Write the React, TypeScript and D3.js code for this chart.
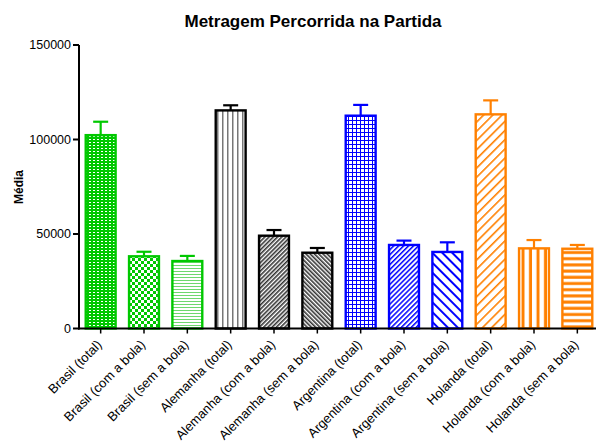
import React from 'react';
import * as d3 from 'd3';

const categories = [
  'Brasil (total)', 'Brasil (com a bola)', 'Brasil (sem a bola)',
  'Alemanha (total)', 'Alemanha (com a bola)', 'Alemanha (sem a bola)',
  'Argentina (total)', 'Argentina (com a bola)', 'Argentina (sem a bola)',
  'Holanda (total)', 'Holanda (com a bola)', 'Holanda (sem a bola)',
];
const means = [102300, 38200, 35700, 115400, 49100, 40100, 112600, 44200, 40500, 113300, 42400, 42200];
const upper = [109400, 40600, 38400, 118100, 52100, 42600, 118300, 46500, 45600, 120700, 46800, 44200];
const barColors = [
  '#00c800', '#00c800', '#00c800',
  '#000000', '#000000', '#000000',
  '#0000ff', '#0000ff', '#0000ff',
  '#ff8000', '#ff8000', '#ff8000',
];
const yTicks = [0, 50000, 100000, 150000];

const W = 596;
const H = 446;
const FONT = 'Liberation Sans, Arial, sans-serif';
const LABEL_ANGLE = -45;

const Patterns = () => (
  <defs>
    {/* Brasil total: fine dotted */}
    <pattern id="p0" width="4" height="3" patternUnits="userSpaceOnUse">
      <rect width="4" height="3" fill="#00c800" />
      <rect x="1" y="1" width="2" height="1" fill="#fff" />
    </pattern>
    {/* Brasil com: checkerboard */}
    <pattern id="p1" width="6" height="6" patternUnits="userSpaceOnUse">
      <rect width="6" height="6" fill="#fff" />
      <rect width="3" height="3" fill="#00c800" />
      <rect x="3" y="3" width="3" height="3" fill="#00c800" />
    </pattern>
    {/* Brasil sem: thin horizontal lines */}
    <pattern id="p2" width="4" height="3" patternUnits="userSpaceOnUse">
      <rect width="4" height="3" fill="#fff" />
      <rect y="1" width="4" height="1" fill="#6ed86e" />
    </pattern>
    {/* Alemanha total: vertical lines */}
    <pattern id="p3" width="5" height="4" patternUnits="userSpaceOnUse">
      <rect width="5" height="4" fill="#fff" />
      <rect x="2" width="1.5" height="4" fill="#777" />
    </pattern>
    {/* Alemanha com: dense / */}
    <pattern id="p4" width="3" height="4" patternUnits="userSpaceOnUse" patternTransform="rotate(45)">
      <rect width="3" height="4" fill="#fff" />
      <rect width="1.6" height="4" fill="#333" />
    </pattern>
    {/* Alemanha sem: dense \ */}
    <pattern id="p5" width="3" height="4" patternUnits="userSpaceOnUse" patternTransform="rotate(-45)">
      <rect width="3" height="4" fill="#fff" />
      <rect width="1.6" height="4" fill="#333" />
    </pattern>
    {/* Argentina total: grid */}
    <pattern id="p6" width="4" height="4" patternUnits="userSpaceOnUse">
      <rect width="4" height="4" fill="#fff" />
      <rect width="4" height="1" fill="#0000ff" />
      <rect width="1" height="4" fill="#0000ff" />
    </pattern>
    {/* Argentina com: fine / */}
    <pattern id="p7" width="3.5" height="4" patternUnits="userSpaceOnUse" patternTransform="rotate(45)">
      <rect width="3.5" height="4" fill="#fff" />
      <rect width="1.5" height="4" fill="#0000ff" />
    </pattern>
    {/* Argentina sem: wide \ */}
    <pattern id="p8" width="7" height="4" patternUnits="userSpaceOnUse" patternTransform="rotate(-45)">
      <rect width="7" height="4" fill="#fff" />
      <rect width="2" height="4" fill="#0000ff" />
    </pattern>
    {/* Holanda total: wide / */}
    <pattern id="p9" width="6.5" height="4" patternUnits="userSpaceOnUse" patternTransform="rotate(45)">
      <rect width="6.5" height="4" fill="#fff" />
      <rect width="1.6" height="4" fill="#ff8000" />
    </pattern>
    {/* Holanda com: thick vertical */}
    <pattern id="p10" width="7.5" height="4" patternUnits="userSpaceOnUse" x="89.5">
      <rect width="7.5" height="4" fill="#fff" />
      <rect x="4.5" width="3" height="4" fill="#ff8000" />
    </pattern>
    {/* Holanda sem: thick horizontal */}
    <pattern id="p11" width="4" height="6.2" patternUnits="userSpaceOnUse">
      <rect width="4" height="6.2" fill="#fff" />
      <rect y="3" width="4" height="3" fill="#ff8000" />
    </pattern>
  </defs>
);

export default function App() {
  const x = d3.scaleBand<string>().domain(categories).range([79, 599]).paddingInner(0.31).paddingOuter(0.155);
  const y = d3.scaleLinear().domain([0, 150000]).range([328.5, 45]);
  const bw = x.bandwidth();
  const y0 = y(0);

  return (
    <svg width={W} height={H} style={{ position: 'absolute', left: 0, top: 0, background: '#fff' }} fontFamily={FONT}>
      <Patterns />
      <text x={313} y={27} textAnchor="middle" fontSize={17} fontWeight="bold">Metragem Percorrida na Partida</text>
      <text transform={`translate(23,187) rotate(-90)`} textAnchor="middle" fontSize={12} fontWeight="bold">Média</text>

      {categories.map((c, i) => {
        const x0 = x(c)!;
        const cx = x0 + bw / 2;
        const top = y(means[i]);
        const col = barColors[i];
        return (
          <g key={c}>
            <line x1={cx} x2={cx} y1={top} y2={y(upper[i])} stroke={col} strokeWidth={2.2} />
            <line x1={cx - 7.5} x2={cx + 7.5} y1={y(upper[i])} y2={y(upper[i])} stroke={col} strokeWidth={2.2} />
            <rect x={x0} y={top} width={bw} height={y0 - top} fill={`url(#p${i})`} stroke={col} strokeWidth={2.4} />
          </g>
        );
      })}

      {/* y axis */}
      <line x1={79} x2={79} y1={y(150000)} y2={y0 + 1} stroke="#000" strokeWidth={2} />
      {yTicks.map(t => (
        <g key={t}>
          <line x1={73} x2={79} y1={y(t)} y2={y(t)} stroke="#000" strokeWidth={2} />
          <text x={71} y={y(t)} dy="0.35em" textAnchor="end" fontSize={12.5}>{t}</text>
        </g>
      ))}
      {/* x axis */}
      <line x1={78} x2={596} y1={y0} y2={y0} stroke="#000" strokeWidth={2} />
      {categories.map(c => {
        const cx = x(c)! + bw / 2;
        return (
          <g key={c}>
            <line x1={cx} x2={cx} y1={y0} y2={y0 + 5} stroke="#000" strokeWidth={1.5} />
            <text transform={`translate(${cx + 2},${y0 + 17}) rotate(${LABEL_ANGLE})`} textAnchor="end" fontSize={13}>{c}</text>
          </g>
        );
      })}
    </svg>
  );
}
